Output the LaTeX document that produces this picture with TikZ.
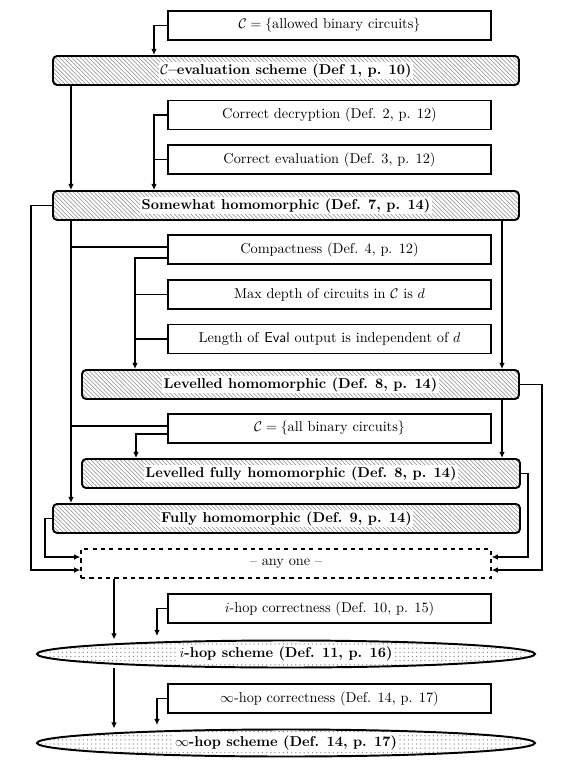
\documentclass[tikz,border=0pt]{standalone}
\usetikzlibrary{patterns,shapes.geometric,arrows.meta,calc}
\setlength{\fboxsep}{1pt}
\newcommand{\hlbl}[1]{\colorbox{white}{\textbf{#1}}}
\begin{document}
\begin{tikzpicture}[x=0.72pt,y=-0.72pt,
  >={Latex[length=4.5pt,width=4.2pt]},
  every node/.style={font=\fontsize{10.3pt}{12pt}\selectfont},
  conn/.style={line width=1pt},
  propbox/.style={draw, line width=1.1pt, rectangle, minimum width=232.56pt, minimum height=20.88pt, inner sep=0pt},
  schemebox/.style={draw, line width=1.4pt, rectangle, rounded corners=3pt, minimum height=20.88pt, inner sep=0pt,
    pattern=north west lines, pattern color=black!45},
  hopnode/.style={draw, line width=1.4pt, ellipse, minimum width=358.56pt, minimum height=19.44pt, inner sep=0pt,
    pattern=dots, pattern color=black!45},
  anybox/.style={draw, line width=1pt, dashed, rectangle, minimum width=295.2pt, minimum height=20.88pt, inner sep=0pt}
]
\useasboundingbox (0,0) rectangle (576,769);

% nodes
\node[propbox] (cset) at (329.5,25.5) {$\mathcal{C}=\{$allowed binary circuits$\}$};
\node[schemebox, minimum width=335.52pt] (ceval) at (286,70.5) {\hlbl{$\mathcal{C}$--evaluation scheme (Def 1, p. 10)}};
\node[propbox] (cdec) at (329.5,115) {Correct decryption (Def. 2, p. 12)};
\node[propbox] (cev) at (329.5,159.5) {Correct evaluation (Def. 3, p. 12)};
\node[schemebox, minimum width=335.52pt] (swh) at (286,205.5) {\hlbl{Somewhat homomorphic (Def. 7, p. 14)}};
\node[propbox] (comp) at (329.5,249.5) {Compactness (Def. 4, p. 12)};
\node[propbox] (maxd) at (329.5,294.5) {Max depth of circuits in $\mathcal{C}$ is $d$};
\node[propbox] (leng) at (329.5,339) {Length of \textsf{Eval} output is independent of $d$};
\node[schemebox, minimum width=314.64pt] (lev) at (300.5,384.5) {\hlbl{Levelled homomorphic (Def. 8, p. 14)}};
\node[propbox] (call) at (329.5,428.5) {$\mathcal{C}=\{$all binary circuits$\}$};
\node[schemebox, minimum width=315.36pt] (lfh) at (301,473.5) {\hlbl{Levelled fully homomorphic (Def. 8, p. 14)}};
\node[schemebox, minimum width=336.24pt] (fh) at (286.5,518.5) {\hlbl{Fully homomorphic (Def. 9, p. 14)}};
\node[anybox] (anyone) at (286,563.5) {-- any one --};
\node[propbox] (ihc) at (329.5,608.5) {$i$-hop correctness (Def. 10, p. 15)};
\node[hopnode] (ihop) at (286,654) {\hlbl{$i$-hop scheme (Def. 11, p. 16)}};
\node[propbox] (ihc2) at (329.5,698.5) {$\infty$-hop correctness (Def. 14, p. 17)};
\node[hopnode] (infhop) at (286,743) {\hlbl{$\infty$-hop scheme (Def. 14, p. 17)}};

% helper coordinates
\coordinate (xa) at (154,0);
\coordinate (xb) at (71,0);
\coordinate (xc) at (31,0);
\coordinate (xd) at (502,0);
\coordinate (xe) at (135,0);
\coordinate (xf) at (136,0);
\coordinate (xg) at (542,0);
\coordinate (xh) at (528,0);
\coordinate (xi) at (45,0);
\coordinate (xj) at (114,0);
\coordinate (xk) at (157,0);
\coordinate (ya) at (0,557);
\coordinate (yb) at (0,570);
\coordinate (c1) at ($(comp.west)+(0,-2.5)$);
\coordinate (c2) at ($(comp.west)+(0,8.5)$);
\coordinate (a1) at ($(call.west)+(0,-2.5)$);
\coordinate (a2) at ($(call.west)+(0,5.5)$);

% connectors
\draw[conn,->] (cset.west) -| (xa |- ceval.north);
\draw[conn,->] (xb |- ceval.south) -- (xb |- swh.north);
\draw[conn,->] (cdec.west) -| (xa |- swh.north);
\draw[conn] (cev.west) -- (xa |- cev.west);
\draw[conn,->] (swh.west) -| (xc |- yb) -- (anyone.west |- yb);
\draw[conn,->] (xb |- swh.south) -- (xb |- fh.north);
\draw[conn] (c1) -- (xb |- c1);
\draw[conn,->] (c2) -| (xe |- lev.north);
\draw[conn] (maxd.west) -- (xe |- maxd.west);
\draw[conn] (leng.west) -- (xe |- leng.west);
\draw[conn,->] (xd |- swh.south) -- (xd |- lev.north);
\draw[conn,->] (xd |- lev.south) -- (xd |- lfh.north);
\draw[conn] (a1) -- (xb |- a1);
\draw[conn,->] (a2) -| (xf |- lfh.north);
\draw[conn,->] (lev.east) -| (xg |- yb) -- (anyone.east |- yb);
\draw[conn,->] (lfh.east) -| (xh |- ya) -- (anyone.east |- ya);
\draw[conn,->] (fh.west) -| (xi |- ya) -- (anyone.west |- ya);
\draw[conn,->] (xj |- anyone.south) -- (xj |- ihop.north);
\draw[conn,->,shorten >=2.5pt] (ihc.west) -| (xk |- ihop.north);
\draw[conn,->] (xj |- ihop.south) -- (xj |- infhop.north);
\draw[conn,->,shorten >=2.5pt] (ihc2.west) -| (xk |- infhop.north);
\end{tikzpicture}
\end{document}
